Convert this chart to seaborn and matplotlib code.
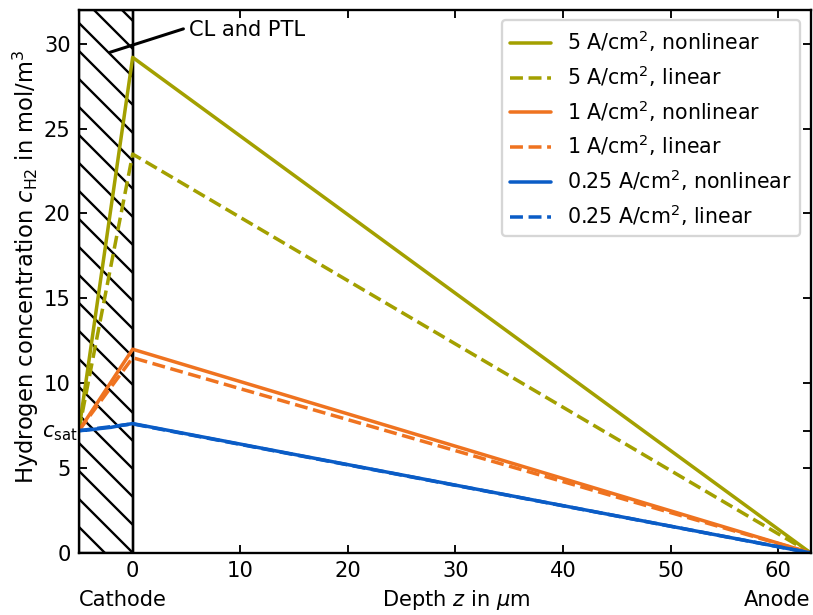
import matplotlib
matplotlib.use("Agg")
import matplotlib.pyplot as plt
import matplotlib.transforms as mtransforms
import seaborn as sns
import numpy as np

# values
c_sat = 7.2
z_lay = [-5, 0, 63]                       # cathode edge, CL/PTL boundary, anode
c_5_nl  = [c_sat, 29.2, 0.0]
c_5_lin = [c_sat, 23.5, 0.0]
c_1_nl  = [c_sat, 12.0, 0.0]
c_1_lin = [c_sat, 11.5, 0.0]
z_025 = [-5, -4, -3, -2, -1, 0, 63]
c_025_nl  = [c_sat, 7.25, 7.33, 7.4, 7.52, 7.62, 0.0]
c_025_lin = [c_sat, 7.6, 0.0]

col_5 = "#a3a000"
col_1 = "#ef7320"
col_025 = "#0a5cc6"

xticks = [0, 10, 20, 30, 40, 50, 60]
yticks = [0, 5, 10, 15, 20, 25, 30]

sns.set_style("ticks", {"text.color": "black", "axes.labelcolor": "black",
                        "xtick.color": "black", "ytick.color": "black",
                        "axes.edgecolor": "black"})
plt.rcParams.update({
    "font.family": ["DejaVu Sans"],
    "font.size": 9,
    "xtick.direction": "in",
    "ytick.direction": "in",
    "xtick.top": True,
    "ytick.right": True,
    "axes.linewidth": 1.0,
    "hatch.linewidth": 1.0,
})

fig, ax = plt.subplots(figsize=(813/168, 615/168), dpi=168)
fig.subplots_adjust(left=0.097, right=0.997, top=0.984, bottom=0.101)

# hatched catalyst layer / PTL region
ax.axvspan(-5, 0, fill=False, hatch="\\\\", edgecolor="black", linewidth=1.0, zorder=0)
ax.axvline(0, color="black", lw=1.0, zorder=0)

lw = 1.5
sns.lineplot(x=z_lay, y=c_5_nl, color=col_5, lw=lw, label=r"5 A/cm$^2$, nonlinear", ax=ax)
sns.lineplot(x=z_lay, y=c_5_lin, color=col_5, lw=lw, ls="--", label=r"5 A/cm$^2$, linear", ax=ax)
sns.lineplot(x=z_lay, y=c_1_nl, color=col_1, lw=lw, label=r"1 A/cm$^2$, nonlinear", ax=ax)
sns.lineplot(x=z_lay, y=c_1_lin, color=col_1, lw=lw, ls="--", label=r"1 A/cm$^2$, linear", ax=ax)
sns.lineplot(x=z_025, y=c_025_nl, color=col_025, lw=lw, label=r"0.25 A/cm$^2$, nonlinear", ax=ax)
sns.lineplot(x=z_lay, y=c_025_lin, color=col_025, lw=lw, ls="--", label=r"0.25 A/cm$^2$, linear", ax=ax)

ax.set_xlim(-5, 63)
ax.set_ylim(0, 32)
ax.set_xticks(xticks)
ax.set_yticks(yticks + [c_sat])
ax.set_yticklabels([str(t) for t in yticks] + [r"$c_\mathrm{sat}$"])
# c_sat label sits closer to the axis
csat_lab = ax.get_yticklabels()[-1]
csat_lab.set_transform(csat_lab.get_transform() +
                       mtransforms.ScaledTranslation(3/72, 0, fig.dpi_scale_trans))

ax.set_ylabel(r"Hydrogen concentration $c_\mathrm{H2}$ in mol/m$^3$", fontsize=9.7)
ax.yaxis.set_label_coords(-0.072, 0.527)
ax.yaxis.label.set_va("center")
ax.set_xlabel(r"Depth $z$ in $\mu$m")
ax.xaxis.set_label_coords(0.516, -0.087)
ax.xaxis.label.set_va("center")
ax.text(0.0, -0.087, "Cathode", transform=ax.transAxes, ha="left", va="center")
ax.text(1.0, -0.087, "Anode", transform=ax.transAxes, ha="right", va="center")

ax.annotate("CL and PTL", xy=(-2.1, 29.5), xytext=(5.2, 30.8), va="center",
            arrowprops=dict(arrowstyle="-", color="black", lw=1.3,
                            relpos=(0.0, 0.65), shrinkA=0, shrinkB=0))

ax.legend(loc="upper right", fontsize=8.8, labelspacing=0.45)

fig.savefig("out.png", dpi=168)
